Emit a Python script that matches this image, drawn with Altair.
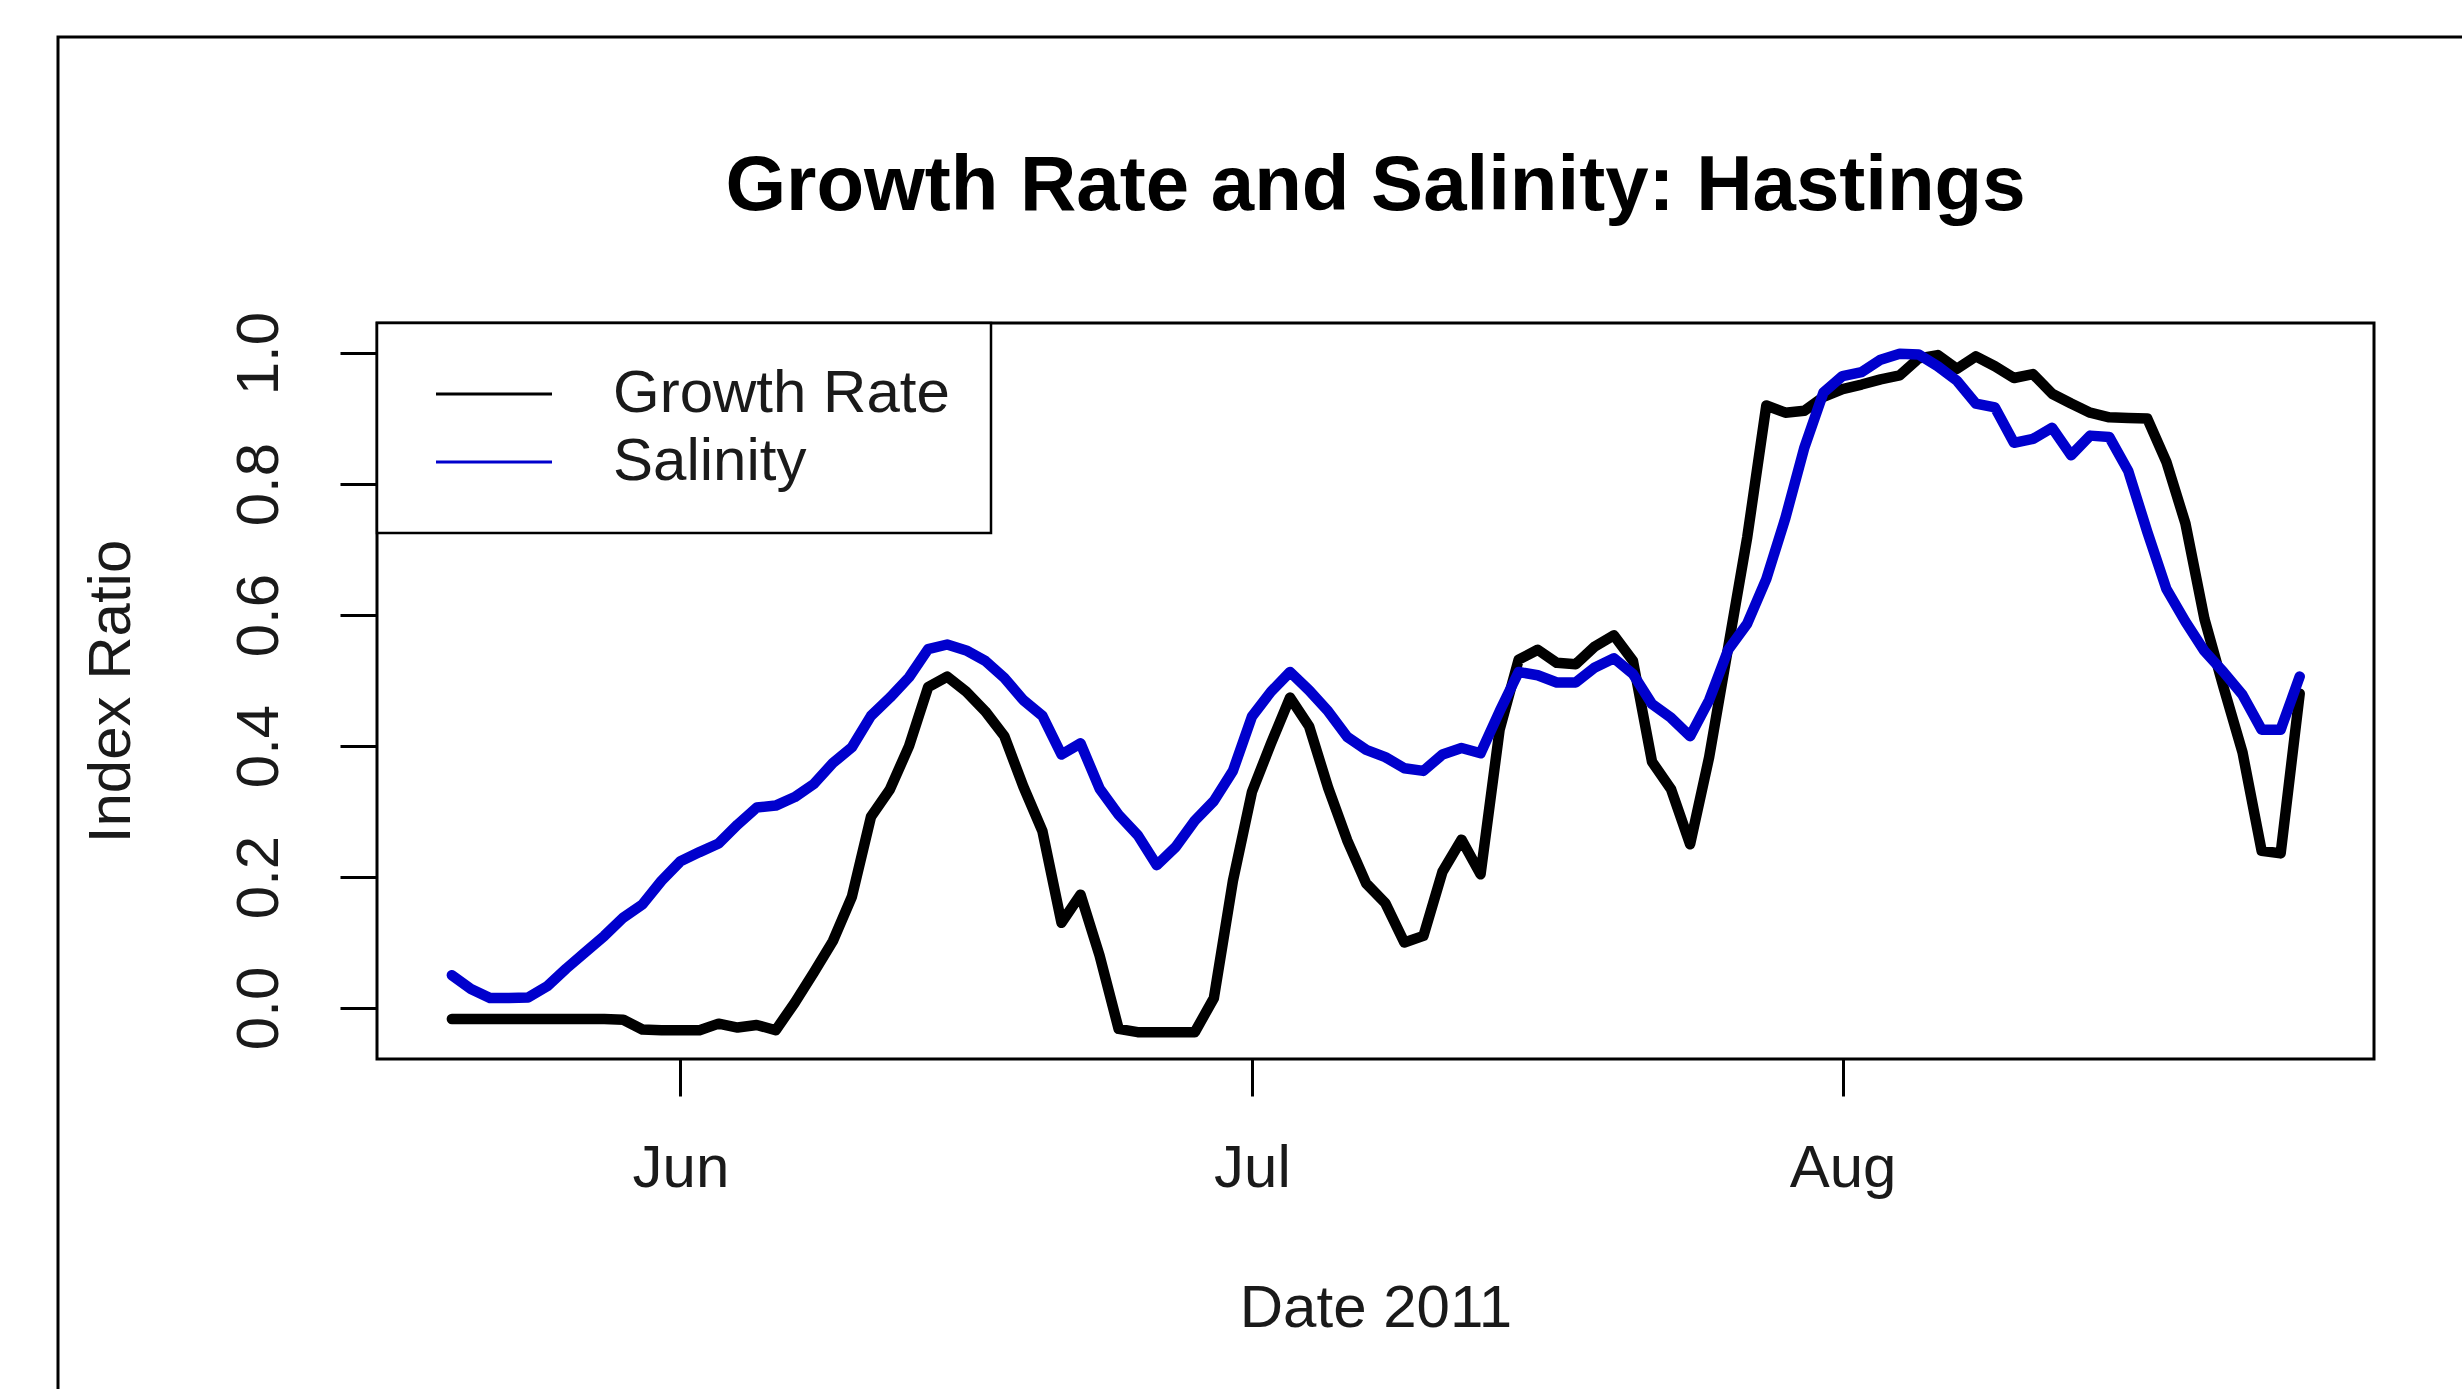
import altair as alt
import pandas as pd

# ---- data (daily values, 2011-05-20 .. 2011-08-25) ----
start_date = "2011-05-20"
series_names = ["Growth Rate", "Salinity"]
series_colors = ["#000000", "#0000CD"]

growth_rate = [
    -0.017, -0.017, -0.017, -0.017, -0.017, -0.017, -0.017, -0.017, -0.017, -0.018,
    -0.033, -0.034, -0.034, -0.034, -0.024, -0.030, -0.026, -0.034, 0.008, 0.054,
    0.102, 0.170, 0.292, 0.334, 0.400, 0.490, 0.506, 0.483, 0.453, 0.415,
    0.338, 0.270, 0.130, 0.173, 0.080, -0.032, -0.037, -0.037, -0.037, -0.037,
    0.015, 0.194, 0.330, 0.404, 0.474, 0.430, 0.336, 0.256, 0.190, 0.160,
    0.100, 0.110, 0.208, 0.257, 0.204, 0.425, 0.532, 0.547, 0.527, 0.525,
    0.552, 0.569, 0.530, 0.376, 0.334, 0.250, 0.383, 0.551, 0.719, 0.920,
    0.909, 0.912, 0.933, 0.945, 0.952, 0.960, 0.966, 0.992, 0.997, 0.976,
    0.995, 0.980, 0.962, 0.968, 0.938, 0.923, 0.909, 0.902, 0.901, 0.900,
    0.834, 0.740, 0.594, 0.490, 0.390, 0.240, 0.236, 0.480,
]

salinity = [
    0.050, 0.029, 0.015, 0.015, 0.016, 0.033, 0.060, 0.085, 0.110, 0.138,
    0.158, 0.194, 0.224, 0.238, 0.251, 0.280, 0.306, 0.309, 0.322, 0.342,
    0.374, 0.398, 0.446, 0.474, 0.505, 0.548, 0.555, 0.546, 0.530, 0.504,
    0.470, 0.446, 0.387, 0.404, 0.335, 0.295, 0.264, 0.218, 0.246, 0.286,
    0.316, 0.362, 0.445, 0.483, 0.513, 0.485, 0.453, 0.414, 0.394, 0.383,
    0.366, 0.362, 0.387, 0.397, 0.389, 0.453, 0.513, 0.508, 0.497, 0.497,
    0.520, 0.534, 0.510, 0.464, 0.443, 0.415, 0.470, 0.547, 0.587, 0.655,
    0.748, 0.856, 0.940, 0.965, 0.971, 0.990, 0.999, 0.998, 0.980, 0.958,
    0.923, 0.917, 0.863, 0.869, 0.886, 0.844, 0.874, 0.872, 0.820, 0.727,
    0.640, 0.590, 0.545, 0.513, 0.478, 0.425, 0.425, 0.506,
]

y_ticks = [0.0, 0.2, 0.4, 0.6, 0.8, 1.0]

n = len(growth_rate)
dates = list(pd.date_range(start_date, periods=n, freq="D"))
df = pd.DataFrame({
    "date": dates + dates,
    "series": [series_names[0]] * n + [series_names[1]] * n,
    "value": growth_rate + salinity,
})

FONT = "Liberation Sans"
TXT = "#1a1a1a"

x_axis = alt.Axis(
    values=[alt.DateTime(year=2011, month=6, date=1),
            alt.DateTime(year=2011, month=7, date=1),
            alt.DateTime(year=2011, month=8, date=1)],
    format="%b", formatType="time",
    labelAngle=0, labelBaseline="middle", labelPadding=72,
    labelFlush=False, labelOverlap=False,
    tickSize=37,
    title="Date 2011", titleY=249, titleBaseline="middle",
)

y_axis = alt.Axis(
    values=y_ticks, format=".1f",
    labelAngle=270, labelAlign="center", labelBaseline="middle", labelPadding=81,
    labelFlush=False, labelOverlap=False,
    tickSize=37,
    title="Index Ratio", titleAngle=270, titleX=-266, titleY=368,
    titleAlign="center", titleBaseline="middle",
)

lines = alt.Chart(df).mark_line(strokeWidth=10.5, strokeJoin="round", strokeCap="round").encode(
    x=alt.X("date:T", axis=x_axis,
            scale=alt.Scale(nice=False, domain=[
                alt.DateTime(year=2011, month=5, date=16, hours=1, minutes=40),
                alt.DateTime(year=2011, month=8, date=28, hours=21, minutes=36)])),
    y=alt.Y("value:Q", axis=y_axis,
            scale=alt.Scale(domain=[-0.078, 1.046], nice=False, zero=False)),
    color=alt.Color("series:N",
                    scale=alt.Scale(domain=series_names, range=series_colors),
                    legend=alt.Legend(orient="none", legendX=0, legendY=0, title=None,
                                      strokeColor="black", fillColor="white",
                                      padding=41, symbolType="M-3,0H3",
                                      symbolSize=1495, symbolStrokeWidth=3,
                                      symbolOffset=46,
                                      labelFontSize=60, labelFont=FONT, labelColor=TXT,
                                      labelLimit=0,
                                      labelOffset=89, rowPadding=8)),
)

frame = alt.Chart(alt.Data(values=[{"k": 1}])).mark_rect(
    filled=False, stroke="black", strokeWidth=3
).encode(
    x=alt.value(-319), x2=alt.value(2110),
    y=alt.value(-286), y2=alt.value(1090),
)

chart = alt.layer(frame, lines).properties(
    width=1997, height=736,
    title=alt.TitleParams(
        text="Growth Rate and Salinity: Hastings",
        fontSize=78, font=FONT, fontWeight="bold", color="black",
        anchor="middle", offset=85, dy=275,
    ),
    autosize=alt.AutoSizeParams(type="none"),
    padding={"left": 377, "top": 323, "right": 88, "bottom": 330},
    background="white",
).configure_view(
    stroke="black", strokeWidth=3
).configure_axis(
    domain=False, grid=False,
    tickColor="black", tickWidth=3,
    labelFont=FONT, labelFontSize=60, labelColor=TXT,
    titleFont=FONT, titleFontSize=60, titleColor=TXT, titleFontWeight="normal",
).configure_legend(
    strokeWidth=2.5
)

chart.save("out.html", embed_options={"renderer": "svg", "actions": False})
